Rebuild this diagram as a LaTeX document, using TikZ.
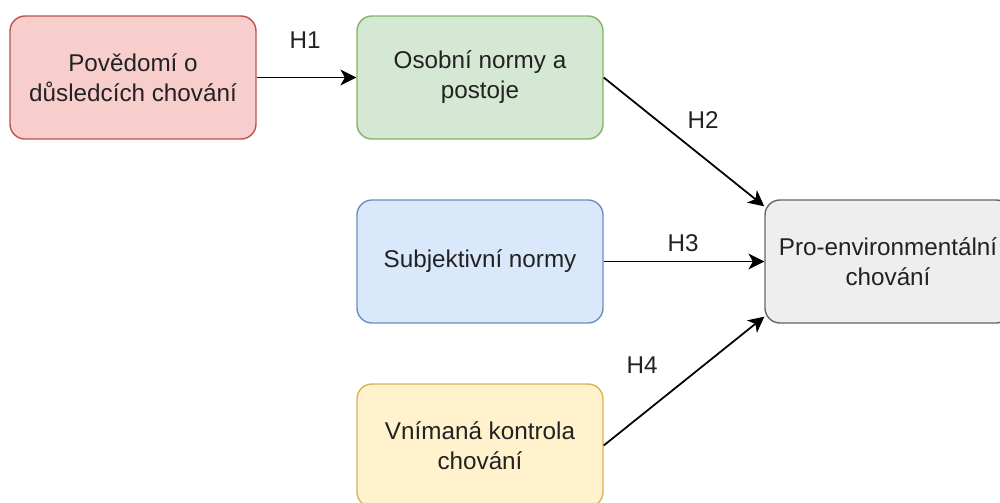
\documentclass[tikz,border=0pt]{standalone}
\usepackage{fontspec}
\setmainfont{Liberation Sans}
\definecolor{awarefill}{HTML}{F8CECC}
\definecolor{awaredraw}{HTML}{B85450}
\definecolor{normfill}{HTML}{D5E8D4}
\definecolor{normdraw}{HTML}{82B366}
\definecolor{subjfill}{HTML}{DAE8FC}
\definecolor{subjdraw}{HTML}{6C8EBF}
\definecolor{ctrlfill}{HTML}{FFF2CC}
\definecolor{ctrldraw}{HTML}{D6B656}
\definecolor{behfill}{HTML}{EEEEEE}
\definecolor{behdraw}{HTML}{666666}
\definecolor{txtgray}{HTML}{222222}
\usetikzlibrary{arrows.meta, positioning}

\begin{document}
\begin{tikzpicture}[
    font=\fontsize{13.8}{17}\selectfont, text=txtgray,
    box/.style={rounded corners=0.3cm, line width=0.8pt, align=center,
      minimum width=4.92cm, minimum height=2.46cm, inner sep=2pt},
    hyp/.style={-{Stealth[length=9pt, width=9pt, inset=2.5pt]}, line width=1pt},
    hlabel/.style={inner sep=1pt}
  ]
  \clip (0,0) rectangle (20,-10.04);

  % boxes
  \node[box, draw=awaredraw, fill=awarefill] (aware) at (2.66,-1.55) {Povědomí o\\důsledcích chování};
  \node[box, draw=normdraw, fill=normfill] (norms) at (9.6,-1.55) {Osobní normy a\\postoje};
  \node[box, draw=subjdraw, fill=subjfill] (subj) at (9.6,-5.23) {Subjektivní normy};
  \node[box, draw=ctrldraw, fill=ctrlfill] (ctrl) at (9.6,-8.91) {Vnímaná kontrola\\chování};
  \node[box, draw=behdraw, fill=behfill] (beh) at (17.76,-5.23) {Pro-environmentální\\chování};

  % hypotheses
  \draw[hyp] (aware) -- (norms);
  \draw[hyp] (norms.east) -- ([yshift=-4pt]beh.north west);
  \draw[hyp] (subj) -- (beh);
  \draw[hyp] (ctrl.east) -- ([yshift=4pt]beh.south west);

  \node[hlabel] (h1) at (6.1,-0.8) {H1};
  \node[hlabel] (h2) at (14.06,-2.4) {H2};
  \node[hlabel] (h3) at (13.66,-4.86) {H3};
  \node[hlabel] (h4) at (12.84,-7.3) {H4};
\end{tikzpicture}
\end{document}
